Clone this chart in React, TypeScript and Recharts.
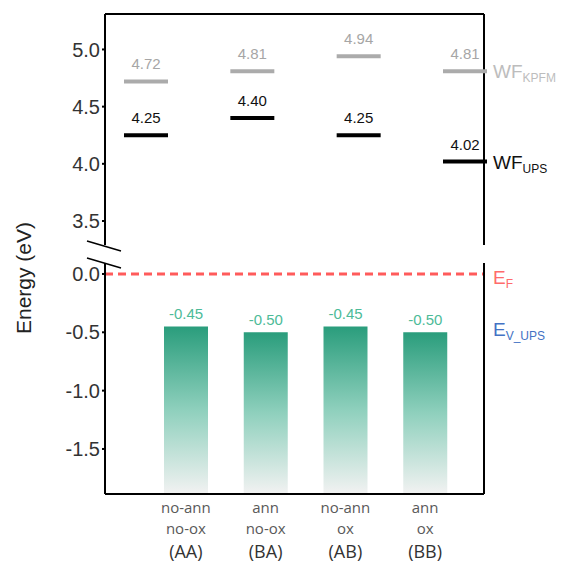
import React from "react";
import {
  ComposedChart,
  Bar,
  Scatter,
  XAxis,
  YAxis,
  ReferenceLine,
  LabelList,
} from "recharts";

// sample groups
const categories = ["AA", "BA", "AB", "BB"];
const annLabels = ["no-ann", "ann", "no-ann", "ann"];
const oxLabels = ["no-ox", "no-ox", "ox", "ox"];

// energies (eV)
const wfKpfm = [4.72, 4.81, 4.94, 4.81];
const wfUps = [4.25, 4.4, 4.25, 4.02];
const evUps = [-0.45, -0.5, -0.45, -0.5];

const upperTicks = [3.5, 4.0, 4.5, 5.0];
const lowerTicks = [-1.5, -1.0, -0.5, 0.0];

const upperDomain = [3.29, 5.31];
const lowerDomain = [-1.886, 0.094];

const rows = categories.map((c, i) => ({
  cat: c,
  kpfm: wfKpfm[i],
  ups: wfUps[i],
  ev: evUps[i],
  evRange: [lowerDomain[0], evUps[i]],
}));

const FONT = "'Liberation Sans', Arial, sans-serif";
const axisLine = { stroke: "#000", strokeWidth: 2 };
const xPad = { left: 41, right: 19 };

const wfShape = (key: string, color: string, textColor: string) => (props: any) => {
  const { cx, cy, payload } = props;
  return (
    <g>
      <line x1={cx - 22} x2={cx + 22} y1={cy} y2={cy} stroke={color} strokeWidth={4} />
      <text x={cx} y={cy - 12} textAnchor="middle" fontSize={15} fill={textColor} fontFamily={FONT}>
        {Number(payload[key]).toFixed(2)}
      </text>
    </g>
  );
};

const CatTick = (props: any) => {
  const { x, y, payload } = props;
  const i = categories.indexOf(payload.value);
  return (
    <g fontFamily="'Open Sans', sans-serif">
      <text x={x} y={y + 19} textAnchor="middle" fontSize={15} fill="#595959">{annLabels[i]}</text>
      <text x={x} y={y + 40} textAnchor="middle" fontSize={15} fill="#595959">{oxLabels[i]}</text>
      <text x={x} y={y + 64} textAnchor="middle" fontSize={18} fill="#333">({payload.value})</text>
    </g>
  );
};

const tickStyle = { fontSize: 20, fill: "#333", fontFamily: FONT };

export default function App() {
  return (
    <div style={{ position: "absolute", left: 0, top: 0, width: 563, height: 564, fontFamily: FONT, background: "#fff" }}>
      <div style={{ position: "absolute", left: 0, top: 0 }}>
        <ComposedChart width={563} height={245} data={rows} margin={{ top: 13, right: 78, bottom: 0, left: 45 }}>
          <XAxis dataKey="cat" orientation="top" height={1} tick={false} tickLine={false} axisLine={axisLine} padding={xPad} />
          <YAxis
            domain={upperDomain}
            ticks={upperTicks}
            interval={0}
            allowDataOverflow
            width={60}
            tickSize={3}
            tickFormatter={(v: number) => v.toFixed(1)}
            tick={tickStyle}
            tickLine={{ stroke: "#000", strokeWidth: 2 }}
            axisLine={axisLine}
          />
          <YAxis yAxisId="r" orientation="right" width={1} domain={upperDomain} allowDataOverflow tick={false} tickLine={false} axisLine={axisLine} />
          <Scatter dataKey="kpfm" isAnimationActive={false} shape={wfShape("kpfm", "#ABABAB", "#A6A6A6")} />
          <Scatter dataKey="ups" yAxisId="r" isAnimationActive={false} shape={wfShape("ups", "#000", "#111")} />
        </ComposedChart>
      </div>
      <div style={{ position: "absolute", left: 0, top: 263 }}>
        <ComposedChart width={563} height={301} data={rows} margin={{ top: 0, right: 78, bottom: 0, left: 45 }}>
          <defs>
            <linearGradient id="tealGrad" x1="0" y1="0" x2="0" y2="1">
              <stop offset="0%" stopColor="#2A9D7C" />
              <stop offset="50%" stopColor="#8FD0BD" />
              <stop offset="100%" stopColor="#F2F2F2" />
            </linearGradient>
          </defs>
          <XAxis dataKey="cat" height={70} tickSize={0} tickMargin={0} tickLine={false} tick={<CatTick />} axisLine={axisLine} padding={xPad} />
          <YAxis
            domain={lowerDomain}
            ticks={lowerTicks}
            interval={0}
            allowDataOverflow
            width={60}
            tickSize={3}
            tickFormatter={(v: number) => v.toFixed(1)}
            tick={tickStyle}
            tickLine={{ stroke: "#000", strokeWidth: 2 }}
            axisLine={axisLine}
          />
          <YAxis yAxisId="r" orientation="right" width={1} domain={lowerDomain} allowDataOverflow tick={false} tickLine={false} axisLine={axisLine} />
          <ReferenceLine y={0} stroke="#FF5B5B" strokeWidth={3} strokeDasharray="8 5" />
          <Bar dataKey="evRange" yAxisId="r" barSize={44} fill="url(#tealGrad)" isAnimationActive={false}>
            <LabelList
              dataKey="ev"
              position="top"
              offset={7}
              fill="#4DBB98"
              fontSize={15}
              formatter={(v: number) => Number(v).toFixed(2)}
            />
          </Bar>
          <Scatter dataKey="ev" isAnimationActive={false} shape={() => <g />} />
        </ComposedChart>
      </div>
      <svg width={563} height={564} style={{ position: "absolute", left: 0, top: 0, pointerEvents: "none" }} fontFamily={FONT}>
        <text x={31} y={278} textAnchor="middle" fontSize={21} fill="#222" transform="rotate(-90, 31, 278)">
          Energy (eV)
        </text>
        <line x1={87} y1={241} x2={121} y2={251} stroke="#000" strokeWidth={1.5} />
        <line x1={87} y1={258} x2={121} y2={268} stroke="#000" strokeWidth={1.5} />
        <text x={493} y={78} fontSize={19} fill="#BDBDBD">
          WF<tspan fontSize={12} dy={4}>KPFM</tspan>
        </text>
        <text x={493} y={169} fontSize={19} fill="#111">
          WF<tspan fontSize={12} dy={4}>UPS</tspan>
        </text>
        <text x={493} y={284} fontSize={19} fill="#FF6B6B">
          E<tspan fontSize={12} dy={4}>F</tspan>
        </text>
        <text x={493} y={336} fontSize={19} fill="#4472C4">
          E<tspan fontSize={12} dy={4}>V_UPS</tspan>
        </text>
      </svg>
    </div>
  );
}
